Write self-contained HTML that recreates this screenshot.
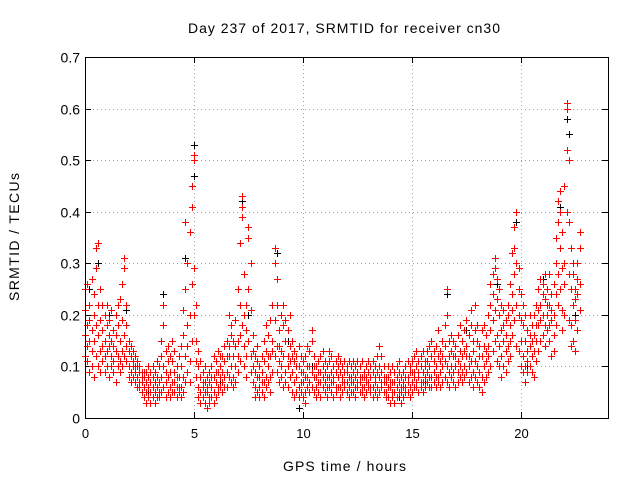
<!DOCTYPE html>
<html><head><meta charset="utf-8"><style>
body{margin:0;background:#fff;}
svg{display:block;font-family:"Liberation Sans",sans-serif;}
</style></head><body>
<svg id="chart" width="640" height="480" viewBox="0 0 640 480">
<rect width="640" height="480" fill="#fff"/>
<text x="188" y="33" font-size="14" textLength="312" lengthAdjust="spacing">Day 237 of 2017, SRMTID for receiver cn30</text>
<text x="283" y="471" font-size="14" textLength="123" lengthAdjust="spacing">GPS time / hours</text>
<text x="0" y="0" font-size="14" textLength="128" lengthAdjust="spacing" transform="translate(19 301) rotate(-90)">SRMTID / TECUs</text>
<g id="grid"></g>
<g id="ticks"></g>
<g id="black"></g>
<g id="red"></g>
<rect x="85.5" y="57.5" width="523" height="361" fill="none" stroke="#000" stroke-width="1"/>
</svg>
<script>
const xTicks=[0,5,10,15,20];
const yTicks=[0,0.1,0.2,0.3,0.4,0.5,0.6,0.7];
const yTickLabels=["0","0.1","0.2","0.3","0.4","0.5","0.6","0.7"];
const redTimes=[0.0,0.1,0.2,0.3,0.4,0.5,0.6,0.7,0.8,0.9,1.0,1.1,1.2,1.3,1.4,1.5,1.6,1.7,1.8,1.9,2.0,2.1,2.2,2.3,2.4,2.5,2.6,2.7,2.8,2.9,3.0,3.1,3.2,3.3,3.4,3.5,3.6,3.7,3.8,3.9,4.0,4.1,4.2,4.3,4.4,4.5,4.6,4.7,4.8,4.9,5.0,5.1,5.2,5.3,5.4,5.5,5.6,5.7,5.8,5.9,6.0,6.1,6.2,6.3,6.4,6.5,6.6,6.7,6.8,6.9,7.0,7.1,7.2,7.3,7.4,7.5,7.6,7.7,7.8,7.9,8.0,8.1,8.2,8.3,8.4,8.5,8.6,8.7,8.8,8.9,9.0,9.1,9.2,9.3,9.4,9.5,9.6,9.7,9.8,9.9,10.0,10.1,10.2,10.3,10.4,10.5,10.6,10.7,10.8,10.9,11.0,11.1,11.2,11.3,11.4,11.5,11.6,11.7,11.8,11.9,12.0,12.1,12.2,12.3,12.4,12.5,12.6,12.7,12.8,12.9,13.0,13.1,13.2,13.3,13.4,13.5,13.6,13.7,13.8,13.9,14.0,14.1,14.2,14.3,14.4,14.5,14.6,14.7,14.8,14.9,15.0,15.1,15.2,15.3,15.4,15.5,15.6,15.7,15.8,15.9,16.0,16.1,16.2,16.3,16.4,16.5,16.6,16.7,16.8,16.9,17.0,17.1,17.2,17.3,17.4,17.5,17.6,17.7,17.8,17.9,18.0,18.1,18.2,18.3,18.4,18.5,18.6,18.7,18.8,18.9,19.0,19.1,19.2,19.3,19.4,19.5,19.6,19.7,19.8,19.9,20.0,20.1,20.2,20.3,20.4,20.5,20.6,20.7,20.8,20.9,21.0,21.1,21.2,21.3,21.4,21.5,21.6,21.7,21.8,21.9,22.0,22.1,22.2,22.3,22.4,22.5,22.6,22.7];
const redValues=[
[.21,.16,.12,.25],[.18,.26,.11,.14],[.22,.09,.15,.19],[.27,.13,.10,.17],[.20,.24,.08,.15],[.33,.29,.12,.18],[.34,.22,.16,.10],[.19,.25,.13,.09],[.22,.17,.11,.14],[.15,.20,.09,.12],
[.18,.13,.22,.10],[.14,.19,.08,.16],[.21,.12,.15,.10],[.17,.11,.14,.09],[.20,.13,.16,.07],[.12,.18,.10,.22],[.23,.15,.11,.09],[.26,.19,.13,.10],[.31,.29,.16,.12],[.22,.14,.11,.18],
[.15,.10,.13,.08],[.12,.09,.14,.07],[.10,.13,.08,.11],[.09,.12,.07,.10],[.08,.11,.06,.10],[.09,.07,.06,.10],[.08,.05,.07,.09],[.06,.09,.04,.08],[.07,.05,.09,.03],[.06,.08,.04,.10],
[.05,.07,.09,.03],[.08,.06,.04,.10],[.05,.09,.03,.07],[.06,.04,.08,.11],[.07,.05,.10,.04],[.15,.08,.05,.12],[.22,.18,.06,.10],[.13,.07,.09,.04],[.08,.05,.11,.14],[.06,.09,.04,.12],
[.07,.11,.05,.15],[.09,.05,.13,.07],[.06,.10,.04,.08],[.08,.12,.05,.06],[.10,.06,.14,.04],[.16,.08,.21,.05],[.25,.12,.07,.38],[.30,.18,.09,.14],[.36,.20,.11,.07],[.41,.45,.26,.15],
[.51,.50,.29,.20],[.22,.15,.08,.11],[.10,.06,.13,.04],[.08,.05,.11,.03],[.06,.09,.04,.07],[.07,.03,.10,.05],[.05,.08,.02,.06],[.04,.07,.09,.03],[.06,.10,.04,.08],[.08,.05,.12,.03],
[.07,.11,.04,.09],[.05,.09,.13,.06],[.10,.06,.08,.12],[.07,.12,.05,.09],[.11,.08,.14,.06],[.09,.15,.06,.12],[.20,.12,.08,.14],[.16,.10,.18,.07],[.12,.08,.15,.06],[.10,.14,.07,.19],
[.25,.15,.09,.12],[.34,.22,.11,.16],[.43,.41,.39,.18],[.28,.14,.10,.20],[.17,.12,.08,.22],[.37,.35,.25,.15],[.30,.21,.12,.09],[.16,.10,.07,.13],[.12,.06,.09,.04],[.08,.05,.11,.14],
[.06,.10,.04,.08],[.09,.05,.12,.07],[.11,.07,.04,.15],[.13,.08,.18,.06],[.10,.16,.07,.12],[.12,.08,.19,.05],[.15,.22,.09,.13],[.33,.30,.19,.12],[.27,.22,.14,.09],[.17,.11,.07,.14],
[.13,.20,.08,.10],[.18,.12,.06,.22],[.15,.09,.19,.07],[.12,.17,.06,.10],[.20,.11,.08,.14],[.09,.15,.05,.12],[.11,.07,.13,.04],[.08,.12,.05,.10],[.06,.10,.14,.04],[.09,.05,.12,.07],
[.07,.11,.04,.09],[.05,.08,.12,.03],[.10,.06,.14,.08],[.07,.13,.05,.10],[.15,.09,.06,.17],[.08,.12,.05,.10],[.06,.10,.04,.08],[.09,.05,.11,.07],[.07,.12,.04,.09],[.10,.06,.08,.13],
[.05,.09,.11,.07],[.08,.04,.10,.06],[.06,.11,.08,.13],[.09,.05,.12,.07],[.07,.10,.04,.08],[.11,.06,.09,.05],[.08,.12,.06,.10],[.06,.09,.04,.11],[.10,.07,.05,.08],[.07,.11,.06,.09],
[.09,.05,.10,.07],[.06,.11,.08,.04],[.08,.05,.10,.07],[.11,.07,.05,.09],[.06,.10,.08,.04],[.09,.06,.11,.07],[.07,.10,.05,.08],[.05,.08,.11,.06],[.08,.06,.09,.04],[.10,.07,.05,.08],
[.07,.11,.06,.09],[.05,.08,.10,.06],[.09,.06,.04,.11],[.07,.10,.05,.08],[.06,.09,.12,.04],[.14,.08,.05,.10],[.09,.12,.06,.07],[.07,.05,.10,.08],[.05,.08,.04,.07],[.08,.04,.06,.10],
[.06,.09,.03,.07],[.04,.07,.10,.05],[.07,.05,.09,.03],[.06,.10,.04,.08],[.09,.05,.07,.11],[.05,.08,.03,.06],[.07,.04,.09,.06],[.06,.10,.05,.08],[.08,.05,.11,.07],[.06,.09,.04,.10],
[.07,.11,.05,.09],[.09,.06,.12,.08],[.06,.10,.07,.13],[.08,.11,.05,.09],[.10,.07,.12,.06],[.07,.09,.13,.05],[.11,.08,.06,.10],[.09,.13,.07,.11],[.06,.10,.14,.08],[.12,.08,.15,.06],
[.07,.11,.09,.13],[.10,.06,.14,.08],[.08,.12,.07,.17],[.13,.09,.06,.11],[.07,.15,.10,.12],[.11,.18,.08,.14],[.25,.20,.10,.07],[.15,.09,.12,.06],[.08,.13,.10,.16],[.12,.07,.15,.09],
[.10,.14,.06,.12],[.16,.09,.11,.07],[.08,.13,.10,.18],[.12,.07,.15,.09],[.10,.17,.08,.13],[.14,.09,.12,.19],[.07,.12,.16,.10],[.18,.11,.08,.21],[.13,.09,.15,.06],[.11,.17,.08,.22],
[.15,.10,.18,.07],[.09,.14,.06,.12],[.12,.08,.17,.05],[.18,.10,.14,.07],[.11,.16,.08,.13],[.14,.09,.20,.12],[.22,.17,.10,.26],[.28,.19,.13,.24],[.31,.29,.21,.15],[.27,.23,.16,.11],
[.20,.14,.25,.10],[.17,.12,.22,.08],[.15,.21,.10,.18],[.13,.19,.09,.16],[.22,.14,.11,.20],[.18,.12,.26,.15],[.32,.24,.16,.21],[.37,.33,.19,.28],[.40,.30,.22,.14],[.29,.20,.13,.25],
[.24,.15,.10,.19],[.18,.12,.22,.09],[.15,.10,.20,.07],[.13,.17,.09,.11],[.16,.10,.14,.20],[.12,.18,.09,.15],[.20,.13,.16,.08],[.15,.22,.11,.18],[.25,.18,.13,.21],[.22,.27,.15,.19],
[.26,.20,.16,.24],[.23,.18,.28,.14],[.25,.20,.17,.22],[.28,.22,.18,.15],[.24,.19,.12,.21],[.20,.16,.26,.13],[.30,.24,.18,.35],[.42,.38,.28,.22],[.44,.40,.33,.25],[.36,.29,.21,.17],
[.45,.30,.20,.26],[.61,.60,.52,.40],[.50,.38,.28,.19],[.33,.25,.18,.14],[.28,.22,.15,.30],[.25,.19,.13,.23],[.30,.24,.17,.27],[.36,.26,.21,.33]];
const blackTimes=[0.2,0.6,1.1,1.9,2.9,3.6,4.6,5.0,5.0,6.2,7.2,7.5,8.0,8.8,9.3,9.8,10.4,11.5,12.3,13.6,14.4,15.6,16.6,17.5,18.9,19.8,20.3,21.0,21.8,22.1,22.2,22.5];
const blackValues=[.25,.30,.20,.21,.05,.24,.31,.53,.47,.07,.42,.20,.04,.32,.15,.02,.10,.05,.11,.07,.04,.07,.24,.17,.26,.38,.10,.27,.41,.58,.55,.20];

const L=85,R=608,T=57,B=418;
const xs=t=>L+(t/24)*(R-L);
const ys=v=>B-(v/0.7)*(B-T);
const NS="http://www.w3.org/2000/svg";
function mk(tag,attrs,parent){const e=document.createElementNS(NS,tag);for(const k in attrs)e.setAttribute(k,attrs[k]);parent.appendChild(e);return e;}
const grid=document.getElementById('grid'),ticks=document.getElementById('ticks');
xTicks.forEach((t,i)=>{
  const x=Math.round(xs(t))+0.5;
  if(t>0){const g=mk('line',{x1:x,x2:x,y1:T,y2:B,stroke:'#a0a0a0','stroke-dasharray':'1,3'},grid);
  
  }
  const a=mk('path',{d:`M${x} ${B}v-6M${x} ${T}v6`,stroke:'#000'},ticks);
  
  
  const lb=mk('text',{x:x,y:B+20,'font-size':13,'text-anchor':'middle'},ticks);lb.textContent=String(t);
  
  
});
yTicks.forEach((v,i)=>{
  const y=Math.round(ys(v))+0.5;
  if(v>0&&v<0.7){const g=mk('line',{x1:L,x2:R,y1:y,y2:y,stroke:'#a0a0a0','stroke-dasharray':'1,3'},grid);
  
  }
  const a=mk('path',{d:`M${L} ${y}h6M${R} ${y}h-6`,stroke:'#000'},ticks);
  
  
  const lb=mk('text',{x:L-5,y:y+5,'font-size':14,'text-anchor':'end'},ticks);lb.textContent=yTickLabels[i];
  
  
});
function plus(parent,t,v,color){
  const x=Math.round(xs(t))+0.5,y=Math.round(ys(v))+0.5;
  const p=mk('path',{d:`M${x-3.5} ${y}h7M${x} ${y-3.5}v7`,stroke:color,'stroke-width':1,'shape-rendering':'crispEdges'},parent);
  
  
}
const bk=document.getElementById('black'),rd=document.getElementById('red');
blackTimes.forEach((t,i)=>plus(bk,t,blackValues[i],'#000'));
redTimes.forEach((t,i)=>redValues[i].forEach(v=>plus(rd,t,v,'#ff0000')));
</script>
</body></html>
